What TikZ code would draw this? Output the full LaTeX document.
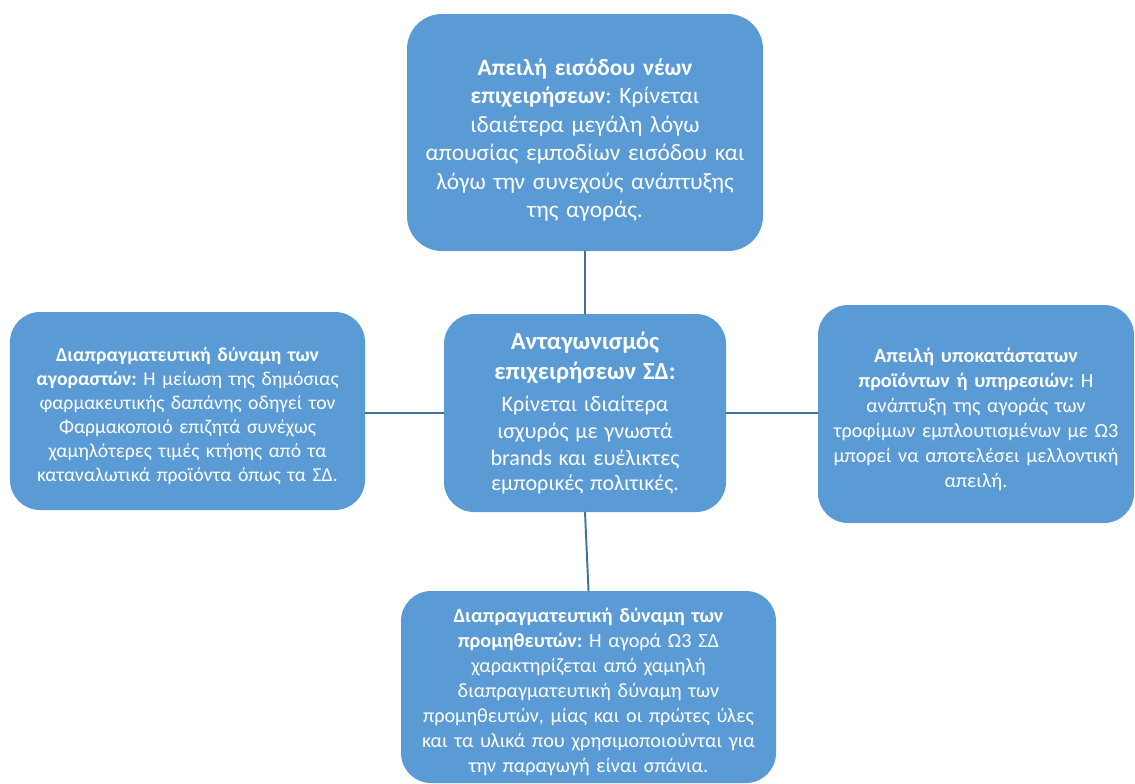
\documentclass[tikz,border=0pt]{standalone}
\usepackage{fontspec}
\setmainfont{Carlito}
\frenchspacing
\definecolor{boxblue}{HTML}{5B9BD5}
\definecolor{linkblue}{HTML}{41719C}
\begin{document}
\begin{tikzpicture}[font=\fontsize{11.5}{14.2}\selectfont,line cap=round,
	box/.style={fill=boxblue, text=white, rounded corners=0.6cm, align=center, inner sep=0pt},
	link/.style={draw=linkblue, line width=1.1pt}]
	\useasboundingbox (0,0) rectangle (22.7,-15.66);
	% five forces
	\node[box, minimum width=7.12cm, minimum height=4.74cm, text width=6.9cm, rounded corners=0.7cm,
		font=\fontsize{13.3}{16.2}\selectfont] (entry) at (11.7,-2.65)
		{\rule{0pt}{18pt}\textbf{Απειλή εισόδου νέων}\\ \textbf{επιχειρήσεων}: Κρίνεται\\ ιδαιέτερα μεγάλη λόγω\\
		απουσίας εμποδίων εισόδου και\\ λόγω την συνεχούς ανάπτυξης\\ της αγοράς.};
	\node[box, minimum width=5.64cm, minimum height=3.96cm, text width=5.3cm] (rivalry) at (11.7,-8.26)
		{{\fontsize{14}{17}\selectfont\textbf{Ανταγωνισμός}\\ \textbf{επιχειρήσεων ΣΔ:}\par}\vspace{3pt}
		\fontsize{12.6}{15.4}\selectfont Κρίνεται ιδιαίτερα\\ ισχυρός με γνωστά\\ brands και ευέλικτες\\ εμπορικές πολιτικές.};
	\node[box, minimum width=7.1cm, minimum height=3.96cm, text width=6.9cm,
		font=\fontsize{11.2}{13.7}\selectfont] (buyers) at (3.75,-8.22)
		{\rule{0pt}{14pt}\textbf{Διαπραγματευτική δύναμη των}\\ \textbf{αγοραστών:} Η μείωση της δημόσιας\\
		φαρμακευτικής δαπάνης οδηγεί τον\\ Φαρμακοποιό επιζητά συνέχως\\
		χαμηλότερες τιμές κτήσης από τα\\ καταναλωτικά προϊόντα όπως τα ΣΔ.};
	\node[box, minimum width=6.32cm, minimum height=4.36cm, text width=6.2cm] (substitutes) at (19.52,-8.28)
		{\rule{0pt}{14pt}\textbf{Απειλή υποκατάστατων}\\ \textbf{προϊόντων ή υπηρεσιών:} Η\\ ανάπτυξη της αγοράς των\\
		τροφίμων εμπλουτισμένων με Ω3\\ μπορεί να αποτελέσει μελλοντική\\ απειλή.};
	\node[box, minimum width=7.5cm, minimum height=3.84cm, text width=7.3cm] (suppliers) at (11.77,-13.74)
		{\rule{0pt}{14pt}\textbf{Διαπραγματευτική δύναμη των}\\ \textbf{προμηθευτών:} Η αγορά Ω3 ΣΔ\\
		χαρακτηρίζεται από χαμηλή\\ διαπραγματευτική δύναμη των\\
		προμηθευτών, μίας και οι πρώτες ύλες\\ και τα υλικά που χρησιμοποιούνται για\\
		την παραγωγή είναι σπάνια.};
	% connectors
	\draw[link] (entry.south) -- (rivalry.north);
	\draw[link] (rivalry.south) -- (suppliers.north);
	\draw[link] (rivalry.west) -- (rivalry.west -| buyers.east);
	\draw[link] (rivalry.east) -- (rivalry.east -| substitutes.west);
\end{tikzpicture}
\end{document}
